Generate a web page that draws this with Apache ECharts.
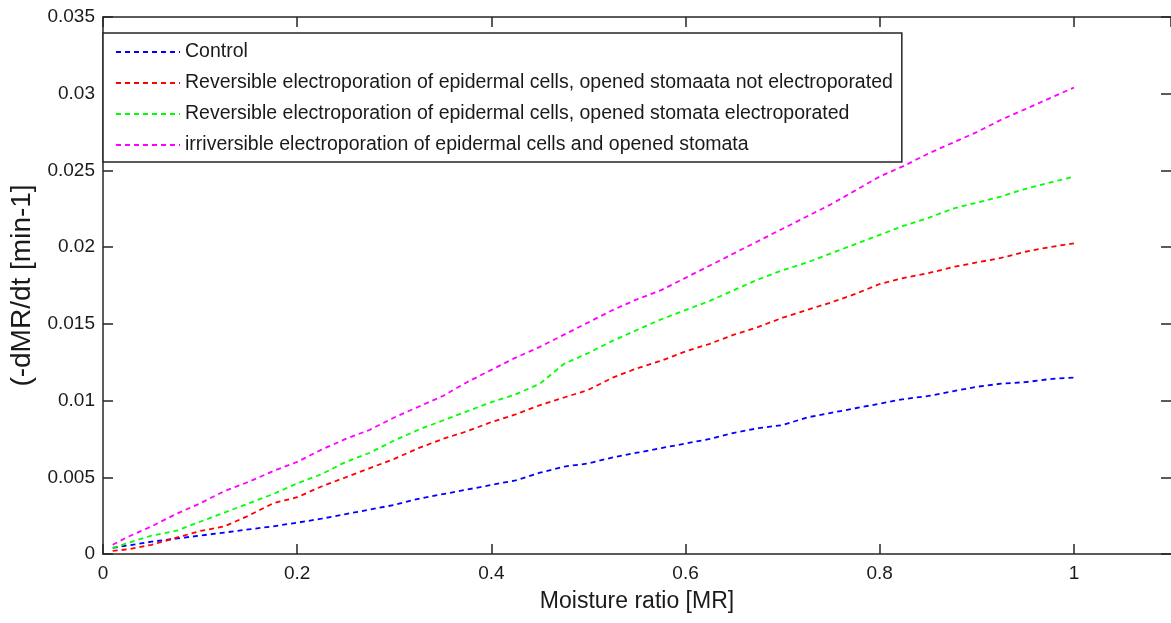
<!DOCTYPE html>
<html>
<head>
<meta charset="utf-8">
<script src="https://cdn.jsdelivr.net/npm/echarts@6/dist/echarts.min.js"></script>
<style type="text/css">
  html, body { margin: 0; padding: 0; background: #fff; }
  #chart_div { width: 1171px; height: 623px; }
</style>
</head>
<body>
<div id="chart_div"></div>
<script>
  // moisture ratio (x)
  var mr = [0.01, 0.025, 0.05, 0.075, 0.1, 0.125, 0.15, 0.175, 0.2, 0.225,
            0.25, 0.275, 0.3, 0.325, 0.35, 0.375, 0.4, 0.425, 0.45, 0.475,
            0.5, 0.525, 0.55, 0.575, 0.6, 0.625, 0.65, 0.675, 0.7, 0.725,
            0.75, 0.775, 0.8, 0.825, 0.85, 0.875, 0.9, 0.925, 0.95, 0.975, 1.0];

  // -dMR/dt values
  var control = [0.0004, 0.00055, 0.0008, 0.001, 0.0012, 0.0014, 0.0016, 0.0018, 0.00204, 0.0023,
                 0.0026, 0.0029, 0.0032, 0.0036, 0.0039, 0.0042, 0.0045, 0.0048, 0.0053, 0.0057,
                 0.0059, 0.0063, 0.0066, 0.0069, 0.0072, 0.0075, 0.0079, 0.0082, 0.0084, 0.0089,
                 0.0092, 0.0095, 0.0098, 0.0101, 0.0103, 0.0106, 0.0109, 0.0111, 0.0112, 0.0114, 0.0115];
  var revNotStomata = [0.0002, 0.0003, 0.0006, 0.00105, 0.0015, 0.0018, 0.0025, 0.0033, 0.0037, 0.0044,
                       0.005, 0.0056, 0.0062, 0.0069, 0.0075, 0.008, 0.0086, 0.0091, 0.0097, 0.0102,
                       0.0107, 0.0115, 0.0121, 0.0126, 0.0132, 0.0137, 0.0143, 0.0148, 0.0154, 0.0159,
                       0.0164, 0.01695, 0.0176, 0.018, 0.0183, 0.0187, 0.019, 0.0193, 0.0197, 0.02, 0.02025];
  var revStomata = [0.0004, 0.0007, 0.0012, 0.0015, 0.0021, 0.0027, 0.0033, 0.0039, 0.0046, 0.0052,
                    0.006, 0.0066, 0.0074, 0.0081, 0.0087, 0.0093, 0.0099, 0.0104, 0.0111, 0.0124,
                    0.0131, 0.0139, 0.0146, 0.0153, 0.0159, 0.0165, 0.0172, 0.0179, 0.0185, 0.019,
                    0.0196, 0.0202, 0.0208, 0.0214, 0.0219, 0.0225, 0.0229, 0.0233, 0.0238, 0.0242, 0.0246];
  var irreversible = [0.0006, 0.0011, 0.0018, 0.0026, 0.0033, 0.0041, 0.0047, 0.0054, 0.006, 0.0068,
                      0.0075, 0.0081, 0.0089, 0.0096, 0.0103, 0.0112, 0.012, 0.0128, 0.0135, 0.0143,
                      0.0151, 0.0159, 0.0166, 0.0172, 0.018, 0.0188, 0.0196, 0.0204, 0.0212, 0.022,
                      0.0228, 0.0237, 0.0246, 0.0253, 0.0261, 0.0268, 0.0275, 0.0283, 0.029, 0.0297, 0.0304];

  var names = [
    'Control',
    'Reversible electroporation of epidermal cells, opened stomaata not electroporated',
    'Reversible electroporation of epidermal cells, opened stomata electroporated',
    'irriversible electroporation of epidermal cells and opened stomata'
  ];
  var colors = ['#0000ff', '#ff0000', '#00ff00', '#ff00ff'];
  var values = [control, revNotStomata, revStomata, irreversible];

  var font = 'Liberation Sans';
  var axisColor = '#262626';
  var textColor = '#1a1a1a';

  function pairs(ys) {
    return mr.map(function(x, i) { return [x, ys[i]]; });
  }

  var series = values.map(function(ys, i) {
    return {
      name: names[i],
      type: 'line',
      data: pairs(ys),
      symbol: 'none',
      smooth: false,
      animation: false,
      lineStyle: { color: colors[i], width: 1.8, type: [5, 4] },
      itemStyle: { color: colors[i] }
    };
  });

  // top and right sides of the box: ticks only, no labels
  function boxAxis(showLine) {
    return {
      axisLine: { show: showLine, onZero: false, lineStyle: { color: axisColor, width: 1.5 } },
      axisTick: { show: true, inside: true, length: 10, lineStyle: { color: axisColor, width: 1.5 } },
      axisLabel: { show: false },
      splitLine: { show: false }
    };
  }

  var option = {
    backgroundColor: '#ffffff',
    animation: false,
    grid: { left: 103, top: 17, right: -1, bottom: 69 },
    legend: {
      orient: 'vertical',
      left: 103,
      top: 33,
      padding: [9, 9, 7, 12],
      itemWidth: 64,
      itemHeight: 14,
      itemGap: 11,
      itemStyle: { opacity: 0 },
      backgroundColor: '#ffffff',
      borderColor: axisColor,
      borderWidth: 1.5,
      borderRadius: 0,
      selectedMode: false,
      textStyle: { fontFamily: font, fontSize: 19.5, color: textColor },
      data: names
    },
    xAxis: [
      {
        type: 'value', min: 0, max: 1.1, interval: 0.2,
        name: 'Moisture ratio [MR]',
        nameLocation: 'middle',
        nameGap: 36,
        nameTextStyle: { fontFamily: font, fontSize: 23, color: textColor },
        axisLine: { show: true, onZero: false, lineStyle: { color: axisColor, width: 1.5 } },
        axisTick: { show: true, inside: true, length: 10, lineStyle: { color: axisColor, width: 1.5 } },
        axisLabel: { fontFamily: font, fontSize: 19, color: textColor, margin: 10, showMaxLabel: false },
        splitLine: { show: false }
      },
      Object.assign({ type: 'value', min: 0, max: 1.1, interval: 0.2, position: 'top' }, boxAxis(true))
    ],
    yAxis: [
      {
        type: 'value', min: 0, max: 0.035, interval: 0.005,
        name: '(-dMR/dt [min-1]',
        nameLocation: 'middle',
        nameGap: 62,
        nameTextStyle: { fontFamily: font, fontSize: 28, color: textColor },
        axisLine: { show: true, onZero: false, lineStyle: { color: axisColor, width: 1.5 } },
        axisTick: { show: true, inside: true, length: 10, lineStyle: { color: axisColor, width: 1.5 } },
        axisLabel: { fontFamily: font, fontSize: 19, color: textColor, margin: 8 },
        splitLine: { show: false }
      },
      Object.assign({ type: 'value', min: 0, max: 0.035, interval: 0.005, position: 'right' }, boxAxis(false))
    ],
    series: series
  };

  var chart = echarts.init(document.getElementById('chart_div'));
  chart.setOption(option);
</script>
</body>
</html>
